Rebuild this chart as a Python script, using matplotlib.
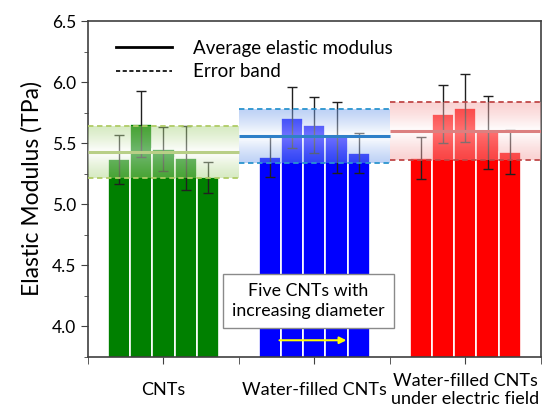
import matplotlib
matplotlib.use('Agg')
import matplotlib.pyplot as plt
import numpy as np

plt.rcParams['font.family'] = ['Lato', 'DejaVu Sans']

groups = ['CNTs', 'Water-filled CNTs', 'Water-filled CNTs\nunder electric field']
bar_colors = ['#008000', '#0000ff', '#ff0000']

# elastic modulus of five CNTs per group (TPa)
cnt_vals = [5.37, 5.66, 5.45, 5.38, 5.22]
water_vals = [5.39, 5.71, 5.65, 5.55, 5.42]
field_vals = [5.38, 5.74, 5.79, 5.59, 5.43]

cnt_err = [0.20, 0.27, 0.18, 0.26, 0.13]
water_err = [0.17, 0.25, 0.23, 0.29, 0.16]
field_err = [0.17, 0.24, 0.28, 0.30, 0.18]

# average and error band per group
avg_vals = [5.425, 5.556, 5.600]
band_low = [5.218, 5.336, 5.360]
band_high = [5.637, 5.777, 5.833]

avg_colors = ['#b8cf86', '#2f80c8', '#dc8080']
dash_colors = ['#b0cc66', '#2a94cf', '#c04848']
band_tints = [(166, 210, 122), (110, 155, 235), (245, 155, 155)]

all_vals = [cnt_vals, water_vals, field_vals]
all_err = [cnt_err, water_err, field_err]

fig = plt.figure(figsize=(5.52, 4.11), dpi=100)
ax = fig.add_axes([0.1594, 0.1314, 0.8206, 0.8175])

n = 5
w = 0.146
offsets = (np.arange(n) - (n - 1) / 2) * w

for i in range(3):
    xs = i + 1 + offsets
    ax.bar(xs, all_vals[i], width=w, bottom=0, color=bar_colors[i],
           edgecolor='white', linewidth=1.2, zorder=2)
    ax.errorbar(xs, all_vals[i], yerr=all_err[i], fmt='none', ecolor='#202020',
                elinewidth=1.0, capsize=3.5, capthick=1.0, zorder=3)

    # gradient band: tinted at edges, whiter in the middle
    ny = 100
    t = np.linspace(-1, 1, ny)
    mix = (1 - np.abs(t)) ** 1.2
    tint = np.array(band_tints[i]) / 255.0
    rgb = tint[None, :] * (1 - mix[:, None]) + mix[:, None] * 1.0
    rgba = np.zeros((ny, 2, 4))
    rgba[:, :, :3] = rgb[:, None, :]
    rgba[:, :, 3] = 0.45
    ax.imshow(rgba, extent=[i + 0.5, i + 1.5, band_low[i], band_high[i]],
              aspect='auto', origin='lower', interpolation='bilinear', zorder=4)

    ax.hlines(avg_vals[i], i + 0.5, i + 1.5, color=avg_colors[i], lw=2.2, zorder=5)
    ax.hlines([band_low[i], band_high[i]], i + 0.5, i + 1.5, color=dash_colors[i],
              lw=1.3, linestyles=(0, (3, 2)), zorder=5)

ax.set_xlim(0.5, 3.5)
ax.set_ylim(3.79, 6.5)

ax.set_xticks([1, 2, 3])
ax.set_xticklabels(groups, fontsize=13, va='center', linespacing=1.15)
ax.set_xticks([0.5, 1.5, 2.5, 3.5], minor=True)
ax.set_yticks(np.arange(4.0, 6.51, 0.5))
ax.set_yticklabels([f'{v:.1f}' for v in np.arange(4.0, 6.51, 0.5)], fontsize=12.5)
ax.set_yticks(np.arange(3.75, 6.51, 0.25), minor=True)
ax.tick_params(axis='x', which='major', direction='out', length=5, pad=19,
               color='#404040')
ax.tick_params(axis='x', which='minor', direction='out', length=5, color='#404040')
ax.tick_params(axis='y', which='major', direction='out', length=5, color='#404040')
ax.tick_params(axis='y', which='minor', direction='out', length=3, color='#404040')
for s in ax.spines.values():
    s.set_color('#404040')
    s.set_linewidth(1.2)

ax.set_ylabel('Elastic Modulus (TPa)', fontsize=16.5, labelpad=7)

ax.plot([], [], color='black', lw=2, label='Average elastic modulus')
ax.plot([], [], color='black', lw=1.2, ls=(0, (2.5, 1.5)), label='Error band')
ax.legend(loc='upper left', frameon=False, fontsize=13.5, handlelength=3.0,
          bbox_to_anchor=(0.025, 0.995), labelspacing=0.35, handletextpad=1.1)

ax.text(1.96, 4.21, 'Five CNTs with\nincreasing diameter', ha='center', va='center',
        fontsize=12.8, zorder=6, linespacing=1.35,
        bbox=dict(boxstyle='square,pad=0.5', facecolor='white', edgecolor='#8a8a8a', lw=1))
ax.annotate('', xy=(2.23, 3.887), xytext=(1.75, 3.887), zorder=6,
            arrowprops=dict(arrowstyle='-|>', color='#ffff00', lw=1.5, mutation_scale=10))

fig.savefig('out.png', dpi=100)
